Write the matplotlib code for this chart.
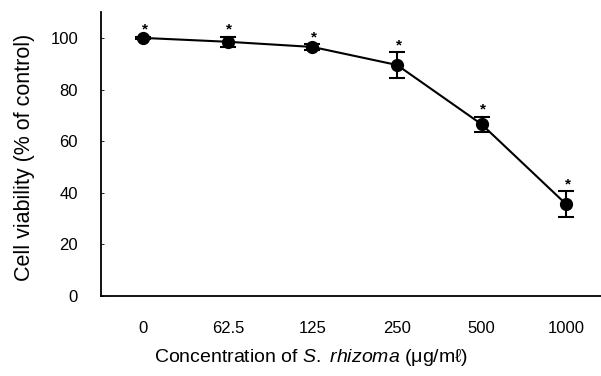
import matplotlib
matplotlib.use("Agg")
import matplotlib.pyplot as plt
import numpy as np

concentrations = ["0", "62.5", "125", "250", "500", "1000"]
viability = [100.0, 98.5, 96.5, 89.5, 66.5, 35.5]
errors = [0.5, 2.0, 1.0, 5.0, 3.0, 5.0]
y_ticks = [0, 20, 40, 60, 80, 100]

plt.rcParams['font.family'] = ['Liberation Sans', 'DejaVu Sans']
plt.rcParams['mathtext.fontset'] = 'custom'
plt.rcParams['mathtext.it'] = 'Liberation Sans:italic'
plt.rcParams['mathtext.rm'] = 'Liberation Sans'

fig = plt.figure(figsize=(6.01, 3.76), dpi=100)
ax = fig.add_axes([0.168, 0.2128, 0.832, 0.755])

x = np.arange(len(concentrations))
ax.errorbar(x, viability, yerr=errors, fmt='o-', color='black', ecolor='black',
            markersize=8.5, linewidth=1.5, elinewidth=1.5, capsize=5.5, capthick=1.5)

for xi, v, e in zip(x, viability, errors):
    ax.annotate('*', (xi, v + e), xytext=(1, 0), textcoords='offset points',
                ha='center', va='bottom', fontsize=11, fontweight='bold')

ax.set_xlim(-0.5, 5.41)
ax.set_ylim(0, 110)
ax.set_xticks(x)
ax.set_xticklabels(concentrations, fontsize=12)
ax.set_yticks(y_ticks)
ax.set_yticklabels([str(t) for t in y_ticks], fontsize=12)
ax.tick_params(axis='x', length=0, pad=18)
ax.tick_params(axis='y', direction='in', length=2, width=0.6, pad=16.5)

for s in ['top', 'right']:
    ax.spines[s].set_visible(False)
for s in ['left', 'bottom']:
    ax.spines[s].set_linewidth(1.3)

ax.set_ylabel('Cell viability (% of control)', fontsize=15.5, va='center')
ax.yaxis.set_label_coords(-0.152, 0.49)
ax.set_xlabel(r'Concentration of $\it{S.\ rhizoma}$ (μg/mℓ)', fontsize=14, va='center')
ax.xaxis.set_label_coords(0.42, -0.218)

fig.savefig('out.png', dpi=100)
